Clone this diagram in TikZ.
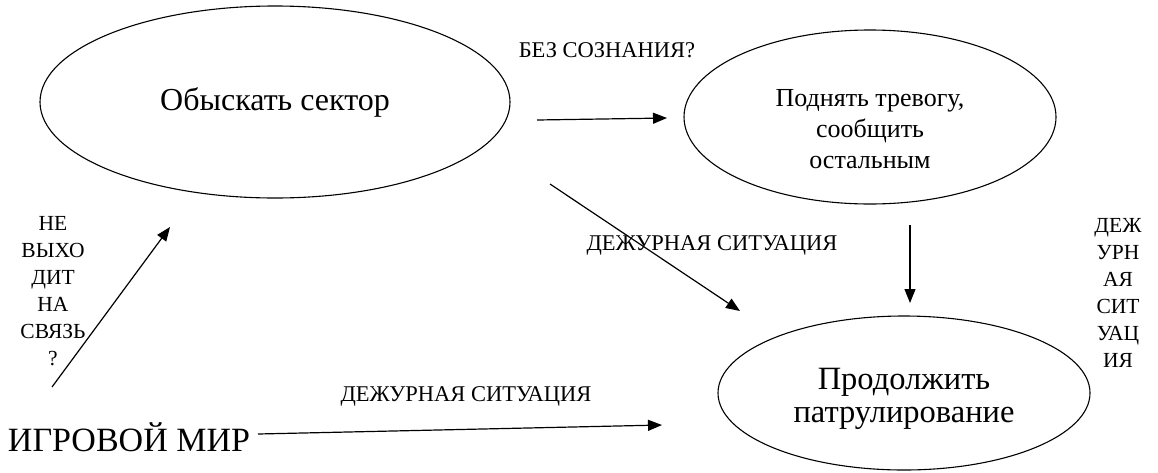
\documentclass[tikz,border=0pt]{standalone}
\usepackage{fontspec}
\setmainfont{Liberation Serif}
\newfontfamily\tnr{Liberation Serif}
\usetikzlibrary{shapes.geometric,arrows.meta}
\begin{document}
\begin{tikzpicture}[x=1pt,y=-1pt,
  every node/.style={font=\tnr},
  oval/.style={draw, ellipse, line width=1.1pt, inner sep=0pt, align=center},
  arr/.style={-{Triangle[length=14pt,width=11pt]}, line width=1.2pt},
  lbl/.style={inner sep=0pt, align=center, font=\tnr\fontsize{21.5}{27}\selectfont},
  small/.style={inner sep=0pt, font=\tnr\fontsize{22.5}{27}\selectfont}]
\useasboundingbox[fill=white] (0,0) rectangle (1158,472);

\node[oval, minimum width=470pt, minimum height=192pt,
      font=\tnr\fontsize{32}{38}\selectfont] (search) at (275,102) {Обыскать сектор};
\node[oval, minimum width=372pt, minimum height=174pt] (alarm) at (870,117) {};
\node[inner sep=0pt, align=center, font=\tnr\fontsize{26}{31}\selectfont] (alarmtext) at (alarm.center) [yshift=-12pt]
      {Поднять тревогу,\\сообщить\\остальным};
\node[oval, minimum width=372pt, minimum height=154pt] (patrol) at (904,393) {};
\node[inner sep=0pt, align=center, font=\tnr\fontsize{32.5}{33}\selectfont] (patroltext) at (patrol.center) [yshift=-6pt]
      {Продолжить\\патрулирование};
\node[inner sep=0pt, font=\tnr\fontsize{34}{38}\selectfont] (world) at (129,437) {ИГРОВОЙ МИР};

\node[small] (l1) at (607,50) {БЕЗ СОЗНАНИЯ?};
\node[small] (l2) at (712,245) {ДЕЖУРНАЯ СИТУАЦИЯ};
\node[small] (l3) at (466,396) {ДЕЖУРНАЯ СИТУАЦИЯ};
\node[lbl] (l4) at (53,291) {НЕ\\ВЫХО\\ДИТ\\НА\\СВЯЗЬ\\?};
\node[lbl] (l5) at (1118,293) {ДЕЖ\\УРН\\АЯ\\СИТ\\УАЦ\\ИЯ};

\coordinate (a1s) at (537,120); \coordinate (a1e) at (667,118);
\coordinate (a2s) at (550,184); \coordinate (a2e) at (740,311);
\coordinate (a3s) at (910,225); \coordinate (a3e) at (910,303);
\coordinate (a4s) at (52,387);  \coordinate (a4e) at (170,227);
\coordinate (a5s) at (258,434); \coordinate (a5e) at (662,425);

\draw[arr] (a1s) -- (a1e);
\draw[arr] (a2s) -- (a2e);
\draw[arr] (a3s) -- (a3e);
\draw[arr] (a4s) -- (a4e);
\draw[arr] (a5s) -- (a5e);
\end{tikzpicture}
\end{document}
